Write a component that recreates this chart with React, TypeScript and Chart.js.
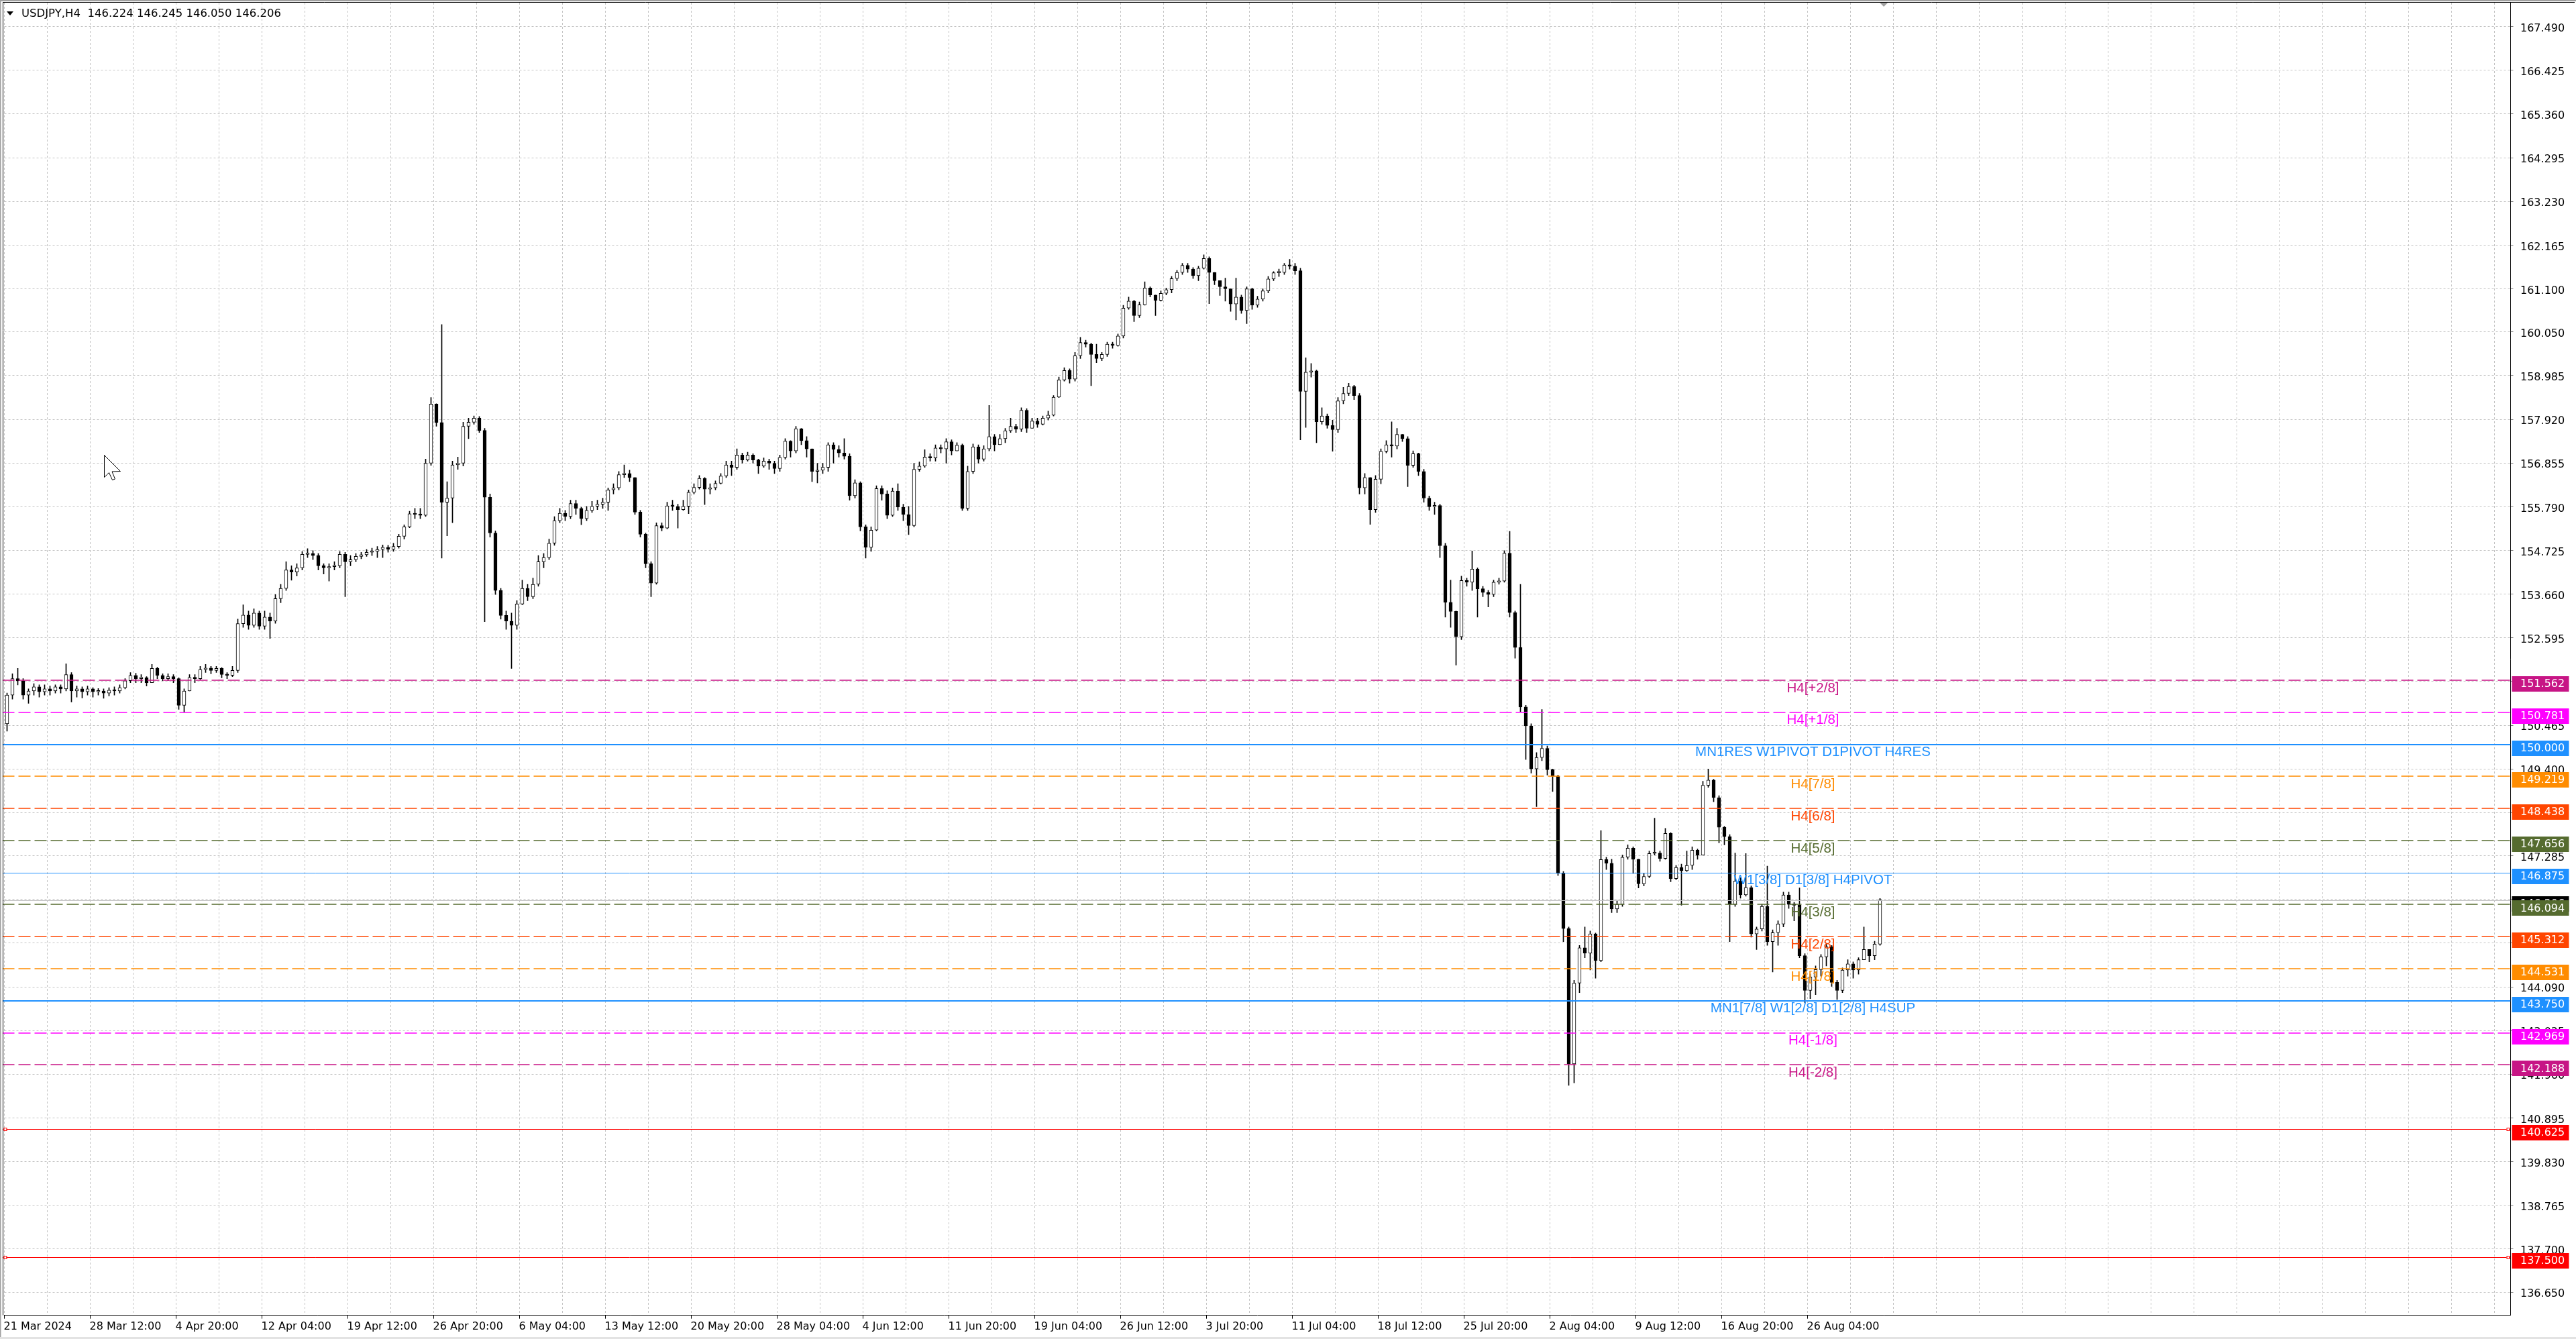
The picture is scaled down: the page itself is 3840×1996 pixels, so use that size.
import React, { useEffect, useRef } from 'react';
import { Chart, registerables } from 'chart.js';

Chart.register(...registerables);

// ---------------- data ----------------
const headerSymbol = 'USDJPY,H4';
const headerQuote = ['146.224', '146.245', '146.050', '146.206'];

// one candle = two H4 bars; open of each candle = previous close
const firstOpen = 150.5;
const closes = [
  151.20, 151.60, 151.55, 151.20, 151.30, 151.40, 151.28, 151.35, 151.30, 151.40,
  151.35, 151.70, 151.30, 151.35, 151.28, 151.35, 151.28, 151.30, 151.25, 151.32,
  151.30, 151.38, 151.55, 151.68, 151.60, 151.62, 151.50, 151.85, 151.68, 151.60,
  151.65, 151.60, 150.95, 151.30, 151.63, 151.60, 151.82, 151.86, 151.80, 151.85,
  151.70, 151.68, 151.80, 152.94, 153.15, 152.90, 153.20, 152.88, 153.10, 153.00,
  153.55, 153.80, 154.25, 154.20, 154.30, 154.63, 154.65, 154.60, 154.35, 154.30,
  154.33, 154.35, 154.63, 154.45, 154.50, 154.58, 154.62, 154.68, 154.70, 154.75,
  154.80, 154.75, 154.82, 155.07, 155.30, 155.62, 155.60, 155.58, 156.85, 158.29,
  157.84, 155.90, 156.00, 156.81, 156.85, 157.75, 157.85, 157.95, 157.65, 156.02,
  155.15, 153.75, 153.14, 153.00, 152.90, 153.42, 153.80, 153.60, 153.90, 154.45,
  154.55, 154.90, 155.45, 155.63, 155.55, 155.87, 155.75, 155.50, 155.70, 155.80,
  155.85, 155.90, 156.20, 156.25, 156.57, 156.60, 156.50, 155.66, 155.12, 154.40,
  153.93, 155.33, 155.27, 155.81, 155.80, 155.72, 155.80, 156.14, 156.26, 156.48,
  156.22, 156.25, 156.36, 156.54, 156.81, 156.75, 157.05, 156.93, 157.05, 156.93,
  156.78, 156.90, 156.85, 156.72, 156.99, 157.39, 157.15, 157.69, 157.40, 157.20,
  156.65, 156.68, 156.75, 157.30, 157.19, 157.10, 157.02, 156.06, 156.37, 155.30,
  154.80, 155.22, 156.23, 156.10, 155.58, 156.17, 155.78, 155.60, 155.33, 156.70,
  156.78, 157.00, 156.98, 157.22, 157.20, 157.37, 157.15, 157.29, 155.75, 156.65,
  157.25, 156.95, 157.20, 157.50, 157.30, 157.45, 157.64, 157.75, 157.68, 158.14,
  157.70, 157.88, 157.80, 157.95, 158.02, 158.46, 158.88, 159.11, 158.90, 159.47,
  159.79, 159.75, 159.50, 159.40, 159.50, 159.75, 159.72, 159.95, 160.63, 160.80,
  160.45, 160.71, 161.12, 160.95, 160.82, 160.99, 161.08, 161.35, 161.50, 161.67,
  161.58, 161.42, 161.60, 161.84, 161.50, 161.30, 161.15, 161.10, 160.73, 160.90,
  160.57, 161.10, 160.70, 160.85, 161.05, 161.34, 161.49, 161.50, 161.68, 161.65,
  161.54, 158.60, 159.07, 159.10, 157.86, 158.00, 157.77, 157.67, 158.37, 158.55,
  158.72, 158.50, 156.25, 156.50, 155.72, 156.46, 157.14, 157.30, 157.27, 157.55,
  157.45, 156.80, 157.08, 156.65, 156.00, 155.79, 155.82, 154.84, 153.46, 153.24,
  152.62, 153.99, 153.95, 154.27, 153.79, 153.70, 153.65, 153.95, 153.98, 154.66,
  153.21, 152.36, 150.91, 150.45, 149.40, 149.68, 149.90, 149.38, 149.22, 146.85,
  145.51, 142.21, 144.18, 145.04, 144.91, 145.38, 144.73, 147.19, 147.10, 145.99,
  146.10, 147.25, 147.47, 147.20, 146.60, 146.78, 147.34, 147.35, 147.22, 147.83,
  146.73, 147.00, 146.92, 147.05, 147.42, 147.30, 149.00, 149.13, 148.70, 147.98,
  147.75, 146.10, 146.67, 146.33, 146.51, 145.38, 145.50, 146.05, 145.19, 145.41,
  145.62, 146.33, 146.10, 146.08, 144.85, 144.00, 144.33, 144.51, 144.82, 145.07,
  144.20, 144.00, 144.50, 144.65, 144.50, 144.75, 145.00, 144.85, 145.13, 146.206,
];
const highs = [
  151.25, 151.72, 151.85, 151.60, 151.35, 151.48, 151.45, 151.45, 151.42, 151.45,
  151.45, 151.96, 151.75, 151.42, 151.40, 151.42, 151.38, 151.36, 151.35, 151.38,
  151.40, 151.45, 151.60, 151.75, 151.73, 151.70, 151.65, 151.95, 151.88, 151.72,
  151.72, 151.70, 151.62, 151.35, 151.70, 151.70, 151.90, 151.95, 151.90, 151.90,
  151.87, 151.75, 151.90, 153.05, 153.40, 153.25, 153.30, 153.25, 153.25, 153.20,
  153.65, 153.90, 154.45, 154.35, 154.40, 154.70, 154.77, 154.72, 154.65, 154.40,
  154.40, 154.45, 154.70, 154.68, 154.60, 154.65, 154.68, 154.75, 154.78, 154.82,
  154.86, 154.85, 154.90, 155.12, 155.35, 155.68, 155.75, 155.75, 156.95, 158.45,
  158.30, 160.23, 156.40, 156.90, 157.00, 157.85, 157.95, 158.00, 157.99, 157.70,
  156.10, 155.20, 153.80, 153.25, 153.20, 153.50, 154.00, 153.90, 154.05, 154.60,
  154.65, 155.00, 155.55, 155.75, 155.70, 155.95, 155.95, 155.78, 155.80, 155.92,
  155.95, 156.00, 156.25, 156.35, 156.65, 156.81, 156.68, 156.50, 155.70, 155.15,
  154.45, 155.40, 155.40, 155.90, 155.95, 155.85, 155.95, 156.20, 156.35, 156.55,
  156.50, 156.35, 156.42, 156.60, 156.90, 156.90, 157.20, 157.10, 157.12, 157.08,
  156.95, 156.98, 156.95, 156.90, 157.05, 157.45, 157.40, 157.75, 157.70, 157.50,
  157.20, 156.85, 156.85, 157.35, 157.35, 157.28, 157.45, 157.08, 156.45, 156.40,
  155.35, 155.30, 156.30, 156.30, 156.18, 156.25, 156.35, 155.85, 155.80, 156.85,
  156.88, 157.18, 157.08, 157.30, 157.30, 157.45, 157.42, 157.35, 157.32, 156.78,
  157.32, 157.30, 157.28, 158.26, 157.55, 157.55, 157.70, 157.95, 157.80, 158.20,
  158.18, 157.95, 157.95, 158.00, 158.12, 158.50, 158.95, 159.18, 159.15, 159.55,
  159.92, 159.85, 159.78, 159.75, 159.55, 159.80, 159.80, 160.00, 160.70, 160.90,
  160.82, 160.78, 161.27, 161.15, 160.95, 161.05, 161.12, 161.40, 161.55, 161.72,
  161.72, 161.62, 161.65, 161.93, 161.88, 161.50, 161.30, 161.36, 161.10, 161.36,
  160.95, 161.15, 161.12, 160.92, 161.10, 161.40, 161.52, 161.58, 161.72, 161.82,
  161.72, 161.60, 159.42, 159.28, 159.12, 158.20, 158.05, 157.90, 158.45, 158.70,
  158.80, 158.75, 158.55, 156.60, 156.50, 156.55, 157.20, 157.40, 157.86, 157.70,
  157.55, 157.50, 157.15, 157.10, 156.70, 156.05, 155.90, 155.85, 154.90, 154.00,
  153.25, 154.10, 154.05, 154.71, 154.30, 153.85, 153.75, 154.00, 154.05, 154.72,
  155.19, 153.25, 153.90, 150.95, 150.50, 149.80, 150.85, 149.96, 149.40, 149.25,
  146.90, 145.55, 144.25, 145.10, 145.55, 145.45, 145.40, 147.90, 147.25, 147.20,
  146.20, 147.30, 147.55, 147.50, 147.20, 146.85, 147.40, 148.20, 147.40, 147.95,
  147.85, 147.05, 147.08, 147.40, 147.50, 147.45, 149.10, 149.40, 149.15, 148.75,
  148.00, 147.80, 147.35, 146.75, 147.34, 146.55, 145.55, 146.10, 147.03, 145.48,
  145.70, 146.40, 146.40, 146.15, 146.50, 144.90, 144.40, 144.60, 144.88, 145.15,
  145.10, 144.25, 144.55, 144.75, 144.70, 144.80, 145.55, 145.00, 145.20, 146.245,
];
const lows = [
  150.32, 151.10, 151.45, 151.10, 151.00, 151.20, 151.15, 151.20, 151.20, 151.25,
  151.25, 151.30, 151.03, 151.15, 151.13, 151.20, 151.15, 151.20, 151.12, 151.18,
  151.20, 151.25, 151.35, 151.50, 151.50, 151.50, 151.42, 151.50, 151.60, 151.55,
  151.55, 151.50, 150.85, 150.78, 151.30, 151.50, 151.58, 151.75, 151.72, 151.75,
  151.62, 151.60, 151.65, 151.75, 152.85, 152.80, 152.85, 152.80, 152.80, 152.58,
  152.95, 153.45, 153.75, 154.00, 154.10, 154.25, 154.55, 154.50, 154.25, 154.15,
  153.98, 154.25, 154.30, 153.60, 154.35, 154.45, 154.52, 154.58, 154.60, 154.55,
  154.55, 154.68, 154.70, 154.78, 155.00, 155.28, 155.50, 155.50, 155.55, 156.80,
  157.75, 154.54, 155.08, 155.40, 156.70, 156.78, 157.45, 157.80, 157.60, 152.99,
  155.05, 153.65, 153.05, 152.80, 151.85, 152.80, 153.40, 153.50, 153.55, 153.85,
  154.30, 154.50, 154.85, 155.40, 155.45, 155.50, 155.60, 155.35, 155.45, 155.65,
  155.72, 155.75, 155.70, 156.10, 156.20, 156.50, 156.40, 155.60, 155.05, 154.30,
  153.60, 153.90, 155.20, 155.25, 155.70, 155.27, 155.70, 155.62, 156.10, 156.22,
  155.84, 156.10, 156.20, 156.34, 156.50, 156.55, 156.70, 156.85, 156.90, 156.85,
  156.60, 156.75, 156.70, 156.60, 156.65, 156.95, 157.00, 157.10, 157.30, 157.00,
  156.40, 156.37, 156.60, 156.65, 156.85, 157.00, 156.95, 155.95, 156.00, 155.20,
  154.54, 154.70, 155.20, 155.95, 155.50, 155.55, 155.70, 155.45, 155.11, 155.30,
  156.65, 156.75, 156.90, 156.90, 157.10, 156.85, 157.05, 157.15, 155.70, 155.70,
  156.60, 156.85, 156.90, 157.15, 157.15, 157.30, 157.35, 157.60, 157.60, 157.62,
  157.60, 157.70, 157.72, 157.78, 157.90, 158.00, 158.45, 158.85, 158.80, 158.85,
  159.40, 159.68, 158.74, 159.30, 159.35, 159.45, 159.65, 159.70, 159.90, 160.60,
  160.30, 160.40, 160.70, 160.90, 160.45, 160.80, 160.95, 161.00, 161.30, 161.45,
  161.50, 161.35, 161.30, 161.58, 160.74, 161.20, 160.94, 160.80, 160.55, 160.34,
  160.50, 160.25, 160.60, 160.65, 160.80, 161.00, 161.30, 161.40, 161.45, 161.58,
  161.45, 157.42, 157.72, 158.95, 157.35, 157.80, 157.70, 157.14, 157.60, 158.30,
  158.50, 158.40, 156.10, 156.10, 155.36, 155.65, 156.35, 157.10, 157.00, 157.20,
  157.38, 156.28, 156.75, 156.55, 155.90, 155.70, 155.60, 154.55, 153.10, 152.85,
  151.93, 152.55, 153.85, 153.75, 153.10, 153.60, 153.35, 153.60, 153.90, 153.95,
  153.10, 152.10, 150.80, 149.63, 149.30, 148.48, 149.60, 149.25, 148.85, 146.80,
  145.19, 141.69, 141.75, 143.95, 144.80, 144.50, 144.30, 144.70, 146.95, 145.90,
  145.90, 146.05, 147.20, 146.85, 146.50, 146.55, 146.75, 147.30, 147.15, 147.20,
  146.65, 146.70, 146.08, 146.90, 146.95, 147.20, 147.30, 148.95, 148.60, 147.60,
  147.55, 145.19, 146.05, 146.25, 146.30, 145.30, 145.00, 145.45, 145.10, 144.45,
  145.10, 145.55, 146.00, 145.70, 144.80, 143.70, 143.80, 143.90, 144.35, 144.60,
  144.10, 143.78, 143.95, 144.35, 144.30, 144.40, 144.75, 144.70, 144.75, 145.10,
];

const slotCount = 467;
const xTickEvery = 16;
const xGridEvery = 8;
const xTickLabels = [
  '21 Mar 2024', '28 Mar 12:00', '4 Apr 20:00', '12 Apr 04:00', '19 Apr 12:00', '26 Apr 20:00',
  '6 May 04:00', '13 May 12:00', '20 May 20:00', '28 May 04:00', '4 Jun 12:00', '11 Jun 20:00',
  '19 Jun 04:00', '26 Jun 12:00', '3 Jul 20:00', '11 Jul 04:00', '18 Jul 12:00', '25 Jul 20:00',
  '2 Aug 04:00', '9 Aug 12:00', '16 Aug 20:00', '26 Aug 04:00',
];
const yTickValues = [
  167.490, 166.425, 165.360, 164.295, 163.230, 162.165, 161.100, 160.050, 158.985, 157.920,
  156.855, 155.790, 154.725, 153.660, 152.595, 151.530, 150.465, 149.400, 148.335, 147.285,
  146.220, 145.155, 144.090, 143.025, 141.960, 140.895, 139.830, 138.765, 137.700, 136.650,
];
const yMin = 136.085;
const yMax = 168.073;

const levelValues = [
  151.562, 150.781, 150.000, 149.219, 148.438, 147.656, 146.875,
  146.094, 145.312, 144.531, 143.750, 142.969, 142.188, 140.625, 137.500,
];
const levelNames = [
  'H4[+2/8]', 'H4[+1/8]', 'MN1RES W1PIVOT D1PIVOT H4RES', 'H4[7/8]', 'H4[6/8]', 'H4[5/8]',
  'W1[3/8] D1[3/8] H4PIVOT', 'H4[3/8]', 'H4[2/8]', 'H4[1/8]', 'MN1[7/8] W1[2/8] D1[2/8] H4SUP',
  'H4[-1/8]', 'H4[-2/8]', '', '',
];
const currentPrice = 146.206;
const levelLabelAt = 336.5; // candle index where the level captions are anchored

// ---------------- styles ----------------
const levelColors = [
  '#C71585', '#FF00FF', '#1E90FF', '#FF8C00', '#FF4500', '#556B2F', '#1E90FF',
  '#556B2F', '#FF4500', '#FF8C00', '#1E90FF', '#FF00FF', '#C71585', '#FF0000', '#FF0000',
];
const levelDashed = [true, true, false, true, true, true, false, true, true, true, false, true, true, false, false];
const levelWidths = [1.5, 1.5, 2, 1.5, 1.5, 1.5, 1, 1.5, 1.5, 1.5, 2, 1.5, 1.5, 1, 1];
const levelMarkers = [false, false, false, false, false, false, false, false, false, false, false, false, false, true, true];

const AXIS_FONT = '16px "DejaVu Sans", sans-serif';
const HEADER_FONT = '16.5px "DejaVu Sans", sans-serif';
const GRID_COLOR = '#C4C4C4';

const levelPlugin = {
  id: 'mtLevels',
  afterDatasetsDraw(chart: any) {
    const { ctx, chartArea: a, scales } = chart;
    const x = scales.x;
    const y = scales.y;
    ctx.save();
    ctx.beginPath();
    ctx.rect(a.left - 3, a.top, a.right - a.left + 3, a.bottom - a.top);
    ctx.clip();
    const cy = Math.round(y.getPixelForValue(currentPrice)) + 0.5;
    ctx.setLineDash([]);
    ctx.strokeStyle = '#C0C0C0';
    ctx.lineWidth = 1;
    ctx.beginPath();
    ctx.moveTo(a.left - 3, cy);
    ctx.lineTo(a.right, cy);
    ctx.stroke();
    levelValues.forEach((v, i) => {
      const w = levelWidths[i];
      const py = Math.round(y.getPixelForValue(v)) + (w === 1 ? 0.5 : 0);
      ctx.strokeStyle = levelColors[i];
      ctx.lineWidth = w;
      ctx.setLineDash(levelDashed[i] ? [18, 6] : []);
      ctx.beginPath();
      ctx.moveTo(a.left - 3, py);
      ctx.lineTo(a.right, py);
      ctx.stroke();
      if (levelMarkers[i]) {
        ctx.setLineDash([]);
        ctx.lineWidth = 1;
        ctx.fillStyle = '#FFFFFF';
        ctx.fillRect(a.left - 1, Math.round(py) - 2, 4, 4);
        ctx.strokeRect(a.left - 0.5, Math.round(py) - 2.5, 4, 4);
        ctx.fillRect(a.right - 6, Math.round(py) - 2, 4, 4);
        ctx.strokeRect(a.right - 5.5, Math.round(py) - 2.5, 4, 4);
      }
    });
    ctx.setLineDash([]);
    ctx.font = '20.5px "Liberation Sans", Arial, sans-serif';
    ctx.textAlign = 'center';
    ctx.textBaseline = 'middle';
    const lx = x.getPixelForValue(levelLabelAt);
    levelNames.forEach((t, i) => {
      if (!t) return;
      ctx.fillStyle = levelColors[i];
      ctx.fillText(t, lx, y.getPixelForValue(levelValues[i]) + 12);
    });
    ctx.restore();
  },
};

const framePlugin = {
  id: 'mtFrame',
  beforeDraw(chart: any) {
    const { ctx, width, height } = chart;
    ctx.save();
    ctx.fillStyle = '#FFFFFF';
    ctx.fillRect(0, 0, width, height);
    ctx.restore();
  },
  afterDraw(chart: any) {
    const { ctx, chartArea: a, scales, width, height } = chart;
    const y = scales.y;
    const x = scales.x;
    ctx.save();
    // price tags on the right axis (box sits slightly below its line, as in MT4)
    const tags = levelValues
      .map((v, i) => ({ v, c: levelColors[i] }))
      .concat([{ v: currentPrice, c: '#000000' }])
      .sort((p, q) => q.v - p.v);
    ctx.font = AXIS_FONT;
    ctx.textAlign = 'left';
    ctx.textBaseline = 'middle';
    tags.forEach((t) => {
      const py = y.getPixelForValue(t.v);
      ctx.fillStyle = t.c;
      ctx.fillRect(a.right + 2, Math.round(py) - 6, 85, 23);
      ctx.fillStyle = '#FFFFFF';
      ctx.fillText(t.v.toFixed(3), a.right + 14.5, py + 6);
    });
    // window frame
    ctx.fillStyle = '#A0A0A0';
    ctx.fillRect(0, 0, width, 2);
    ctx.fillRect(0, 0, 1.5, height);
    ctx.fillStyle = '#E3E3E3';
    ctx.fillRect(0, height - 3, width, 3);
    ctx.strokeStyle = '#000000';
    ctx.lineWidth = 1;
    ctx.beginPath();
    ctx.moveTo(4, 3.5);
    ctx.lineTo(width - 2, 3.5);
    ctx.moveTo(4.5, 3);
    ctx.lineTo(4.5, a.bottom);
    ctx.stroke();
    // chart shift marker
    const sx = x.getPixelForValue(closes.length - 0.3);
    ctx.fillStyle = '#A0A0A0';
    ctx.beginPath();
    ctx.moveTo(sx - 6, 4);
    ctx.lineTo(sx + 6, 4);
    ctx.lineTo(sx, 10);
    ctx.closePath();
    ctx.fill();
    // mouse pointer left on the chart
    const mx = 155.5;
    const my = 678.5;
    ctx.beginPath();
    ctx.moveTo(mx, my);
    ctx.lineTo(mx, my + 33);
    ctx.lineTo(mx + 7, my + 26);
    ctx.lineTo(mx + 12, my + 37);
    ctx.lineTo(mx + 16, my + 35.5);
    ctx.lineTo(mx + 11.5, my + 24.5);
    ctx.lineTo(mx + 24, my + 24);
    ctx.closePath();
    ctx.fillStyle = '#FFFFFF';
    ctx.fill();
    ctx.strokeStyle = '#000000';
    ctx.lineWidth = 1;
    ctx.stroke();
    // header
    ctx.fillStyle = '#000000';
    ctx.beginPath();
    ctx.moveTo(10, 17);
    ctx.lineTo(20, 17);
    ctx.lineTo(15, 23);
    ctx.closePath();
    ctx.fill();
    ctx.font = HEADER_FONT;
    ctx.textAlign = 'left';
    ctx.textBaseline = 'middle';
    ctx.fillText(headerSymbol + '  ' + headerQuote.join(' '), 32, 20.5);
    ctx.restore();
  },
};

export default function App() {
  const ref = useRef<HTMLCanvasElement>(null);
  useEffect(() => {
    document.body.style.margin = '0';
    document.body.style.overflow = 'hidden';
    Chart.defaults.font.family = '"DejaVu Sans", sans-serif';
    const opens = closes.map((c, i) => (i === 0 ? firstOpen : closes[i - 1]));
    const chart = new Chart(ref.current as HTMLCanvasElement, {
      type: 'bar',
      data: {
        labels: Array.from({ length: slotCount }, (_, i) => String(i)),
        datasets: [
          {
            label: 'wick',
            data: lows.map((l, i) => [l, highs[i]]) as any,
            backgroundColor: '#000000',
            borderWidth: 0,
            barThickness: 1,
            grouped: false,
            order: 2,
          } as any,
          {
            label: 'body',
            data: closes.map((c, i) => [opens[i], c]) as any,
            backgroundColor: (ctx: any) =>
              closes[ctx.dataIndex] >= opens[ctx.dataIndex] ? '#FFFFFF' : '#000000',
            borderColor: '#000000',
            borderWidth: 1,
            borderSkipped: false,
            barThickness: 5,
            minBarLength: 2,
            grouped: false,
            order: 1,
          } as any,
        ],
      },
      options: {
        responsive: false,
        animation: false,
        devicePixelRatio: 1,
        events: [],
        layout: { padding: { left: 6.5, top: 4, right: 0, bottom: 0 } },
        plugins: { legend: { display: false }, tooltip: { enabled: false }, title: { display: false } },
        scales: {
          x: {
            type: 'category',
            offset: true,
            grid: {
              offset: true,
              color: (c: any) => (c.index % xGridEvery === 0 ? GRID_COLOR : 'rgba(0,0,0,0)'),
              lineWidth: 1,
              drawTicks: true,
              tickLength: 5,
              tickColor: (c: any) =>
                c.index % xTickEvery === 0 && c.index / xTickEvery < xTickLabels.length
                  ? '#000000'
                  : 'rgba(0,0,0,0)',
              tickBorderDash: [],
            },
            border: { display: true, color: '#000000', width: 1, dash: [3, 3] },
            ticks: {
              autoSkip: false,
              maxRotation: 0,
              minRotation: 0,
              align: 'start',
              labelOffset: -5,
              padding: 3,
              color: '#000000',
              font: { family: '"DejaVu Sans", sans-serif', size: 16 },
              callback: (_v: any, i: number) =>
                i % xTickEvery === 0 ? xTickLabels[i / xTickEvery] ?? '' : '',
            },
            afterFit: (s: any) => {
              s.height = 35.3;
              s.paddingLeft = 0;
              s.paddingRight = 0;
            },
          } as any,
          y: {
            position: 'right',
            min: yMin,
            max: yMax,
            afterBuildTicks: (s: any) => {
              s.ticks = yTickValues.map((v) => ({ value: v }));
            },
            grid: { color: GRID_COLOR, lineWidth: 1, drawTicks: true, tickLength: 4, tickColor: '#808080' },
            border: { display: true, color: '#000000', width: 1, dash: [3, 3] },
            ticks: {
              padding: 10.5,
              labelOffset: 3,
              color: '#000000',
              font: { family: '"DejaVu Sans", sans-serif', size: 16 },
              callback: (v: any) => Number(v).toFixed(3),
            },
            afterFit: (s: any) => {
              s.width = 97.5;
              s.paddingTop = 0;
              s.paddingBottom = 0;
            },
          } as any,
        },
      },
      plugins: [levelPlugin, framePlugin],
    });
    return () => chart.destroy();
  }, []);
  return (
    <div style={{ width: 3840, height: 1996, background: '#FFFFFF' }}>
      <canvas ref={ref} width={3840} height={1996} style={{ display: 'block', width: 3840, height: 1996 }} />
    </div>
  );
}
